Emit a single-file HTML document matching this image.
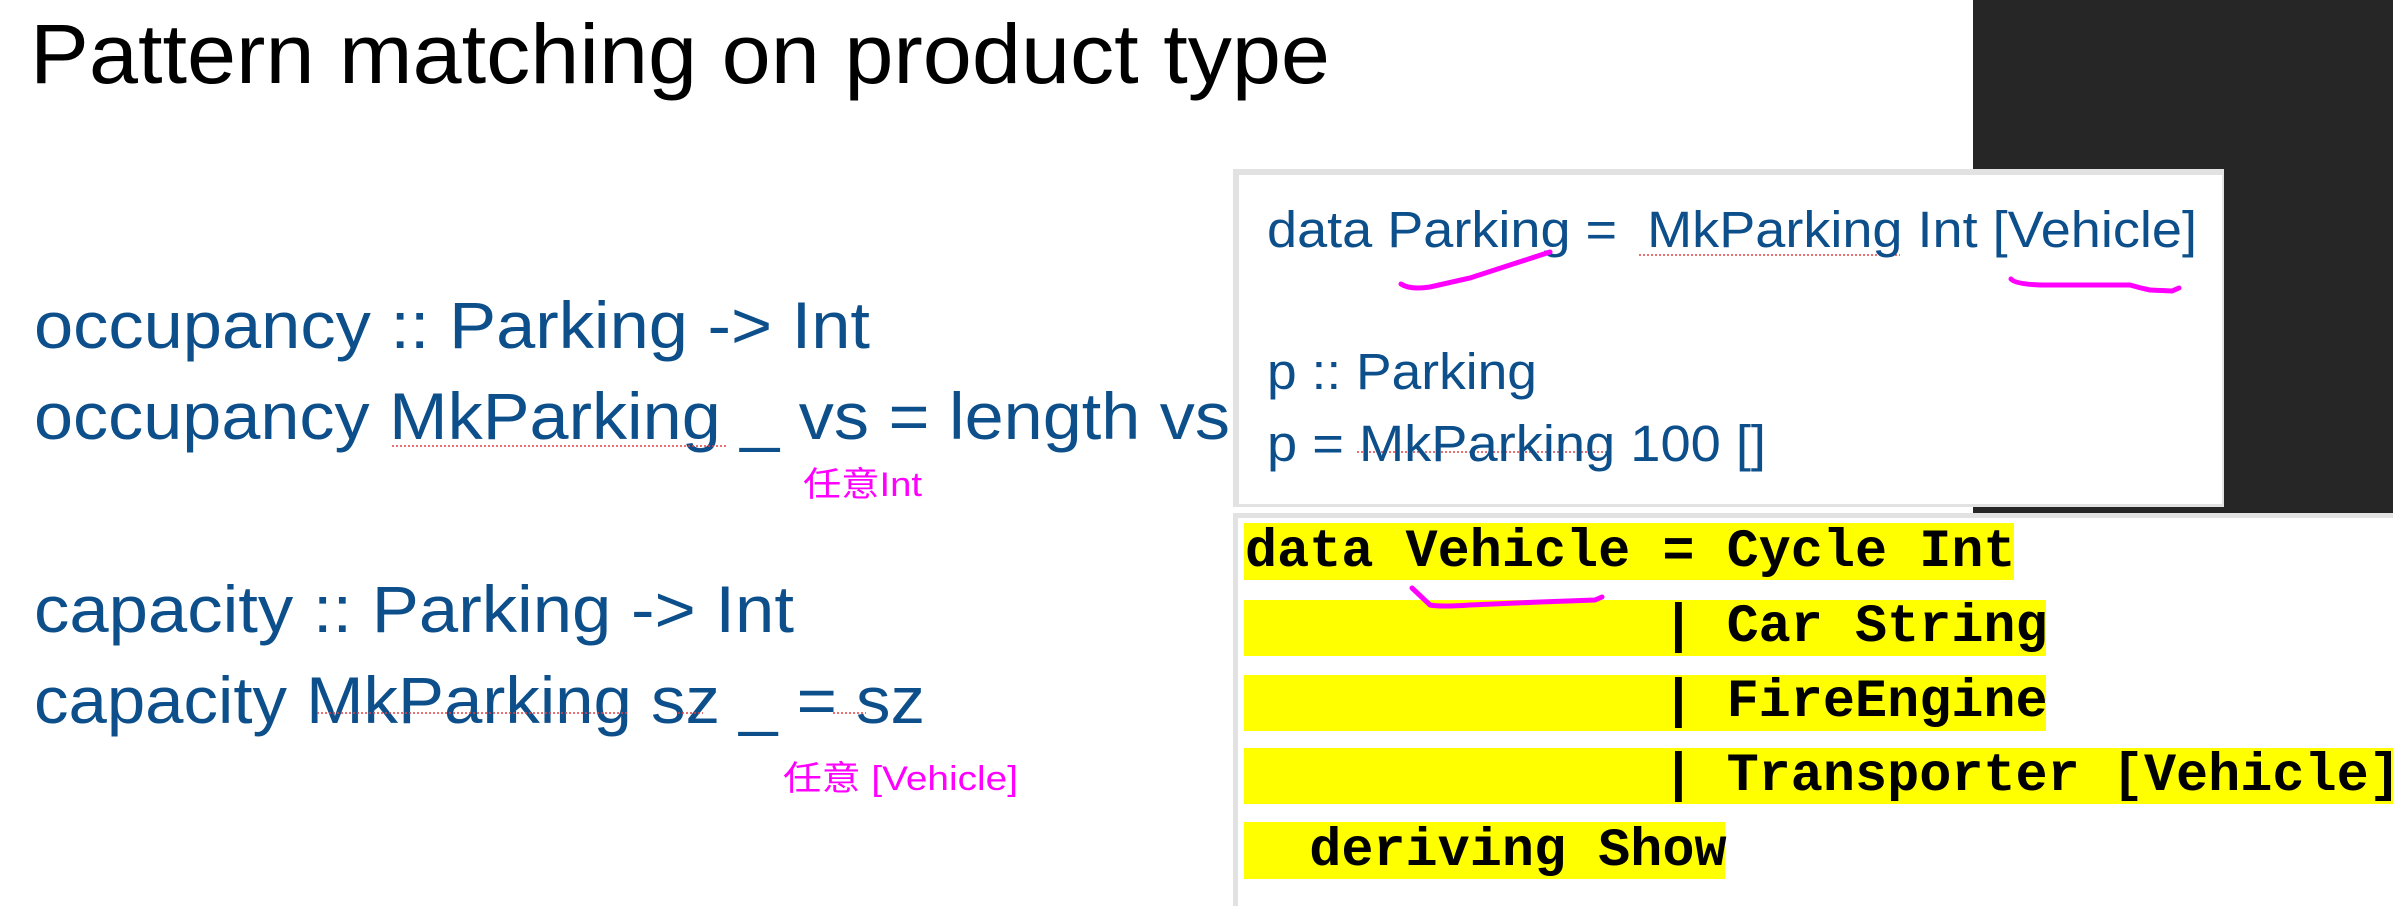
<!DOCTYPE html>
<html><head><meta charset="utf-8"><style>
html,body{margin:0;padding:0;background:#fff;}
svg{display:block}
.pre{white-space:pre}
</style></head><body>
<svg width="2393" height="906" viewBox="0 0 2393 906" xmlns="http://www.w3.org/2000/svg">
<rect x="0" y="0" width="2393" height="906" fill="#fff"/>
<rect x="1973" y="0" width="420" height="906" fill="#262626"/>
<rect x="1233" y="169" width="991" height="338" fill="#e2e2e2"/>
<rect x="1239" y="175" width="983" height="329" fill="#fff"/>
<rect x="1233" y="513" width="1160" height="393" fill="#e2e2e2"/>
<rect x="1238" y="518" width="1155" height="388" fill="#fff"/>

<text x="30" y="83" font-family="Liberation Sans, sans-serif" font-size="84" fill="#000" textLength="1300" lengthAdjust="spacingAndGlyphs">Pattern matching on product type</text>

<g font-family="Liberation Sans, sans-serif" fill="#0d4f8b" font-size="66">
<text x="34" y="348" textLength="836" lengthAdjust="spacingAndGlyphs">occupancy :: Parking -&gt; Int</text>
<text x="34" y="439" textLength="1196" lengthAdjust="spacingAndGlyphs">occupancy MkParking _ vs = length vs</text>
<text x="34" y="632" textLength="760" lengthAdjust="spacingAndGlyphs">capacity :: Parking -&gt; Int</text>
<text x="34" y="723" textLength="891" lengthAdjust="spacingAndGlyphs">capacity MkParking sz _ = sz</text>
</g>
<g stroke="#e04040" stroke-width="1.5" stroke-dasharray="2,2">
<line x1="392" y1="446" x2="727" y2="446"/>
<line x1="317" y1="713" x2="628" y2="713"/>
<line x1="678" y1="713" x2="703" y2="713"/>
<line x1="833" y1="713" x2="866" y2="713"/>
<line x1="1639" y1="255" x2="1900" y2="255"/>
<line x1="1357" y1="452" x2="1613" y2="452"/>
<line x1="1724" y1="690" x2="2046" y2="690"/>
</g>
<g font-family="Liberation Sans, 'Noto Sans CJK SC', sans-serif" fill="#ff00ff" font-size="34">
<text x="803" y="496" textLength="119" lengthAdjust="spacingAndGlyphs">任意Int</text>
<text x="783" y="790" textLength="235" lengthAdjust="spacingAndGlyphs">任意 [Vehicle]</text>
</g>

<g font-family="Liberation Sans, sans-serif" fill="#0d4f8b" font-size="51">
<text class="pre" x="1267" y="247" textLength="930" lengthAdjust="spacingAndGlyphs">data Parking =  MkParking Int [Vehicle]</text>
<text x="1267" y="389" textLength="270" lengthAdjust="spacingAndGlyphs">p :: Parking</text>
<text x="1267" y="461" textLength="499" lengthAdjust="spacingAndGlyphs">p = MkParking 100 []</text>
</g>

<g fill="#ffff00">
<rect x="1244" y="523" width="770" height="57"/>
<rect x="1244" y="600" width="802" height="56"/>
<rect x="1244" y="675" width="802" height="56"/>
<rect x="1244" y="748" width="1149" height="56"/>
<rect x="1244" y="822" width="481" height="57"/>
</g>
<g font-family="Liberation Mono, monospace" font-weight="bold" font-size="53.5" fill="#000">
<text class="pre" x="1245" y="566">data Vehicle = Cycle Int</text>
<text class="pre" x="1245" y="641">             | Car String</text>
<text class="pre" x="1245" y="716">             | FireEngine</text>
<text class="pre" x="1245" y="790">             | Transporter [Vehicle]</text>
<text class="pre" x="1245" y="865">  deriving Show</text>
</g>

<g fill="none" stroke="#ff00ff" stroke-width="5" stroke-linecap="round">
<path d="M1401 284 Q1410 290 1430 287 L1470 278 L1550 252"/>
<path d="M2011 279 Q2015 284 2040 285 L2130 285 Q2140 288 2150 290 L2172 291 L2179 288"/>
<path d="M1412 588 L1430 605 Q1440 607 1470 605 L1540 602 L1595 600 L1602 597"/>
</g>
</svg>
</body></html>
